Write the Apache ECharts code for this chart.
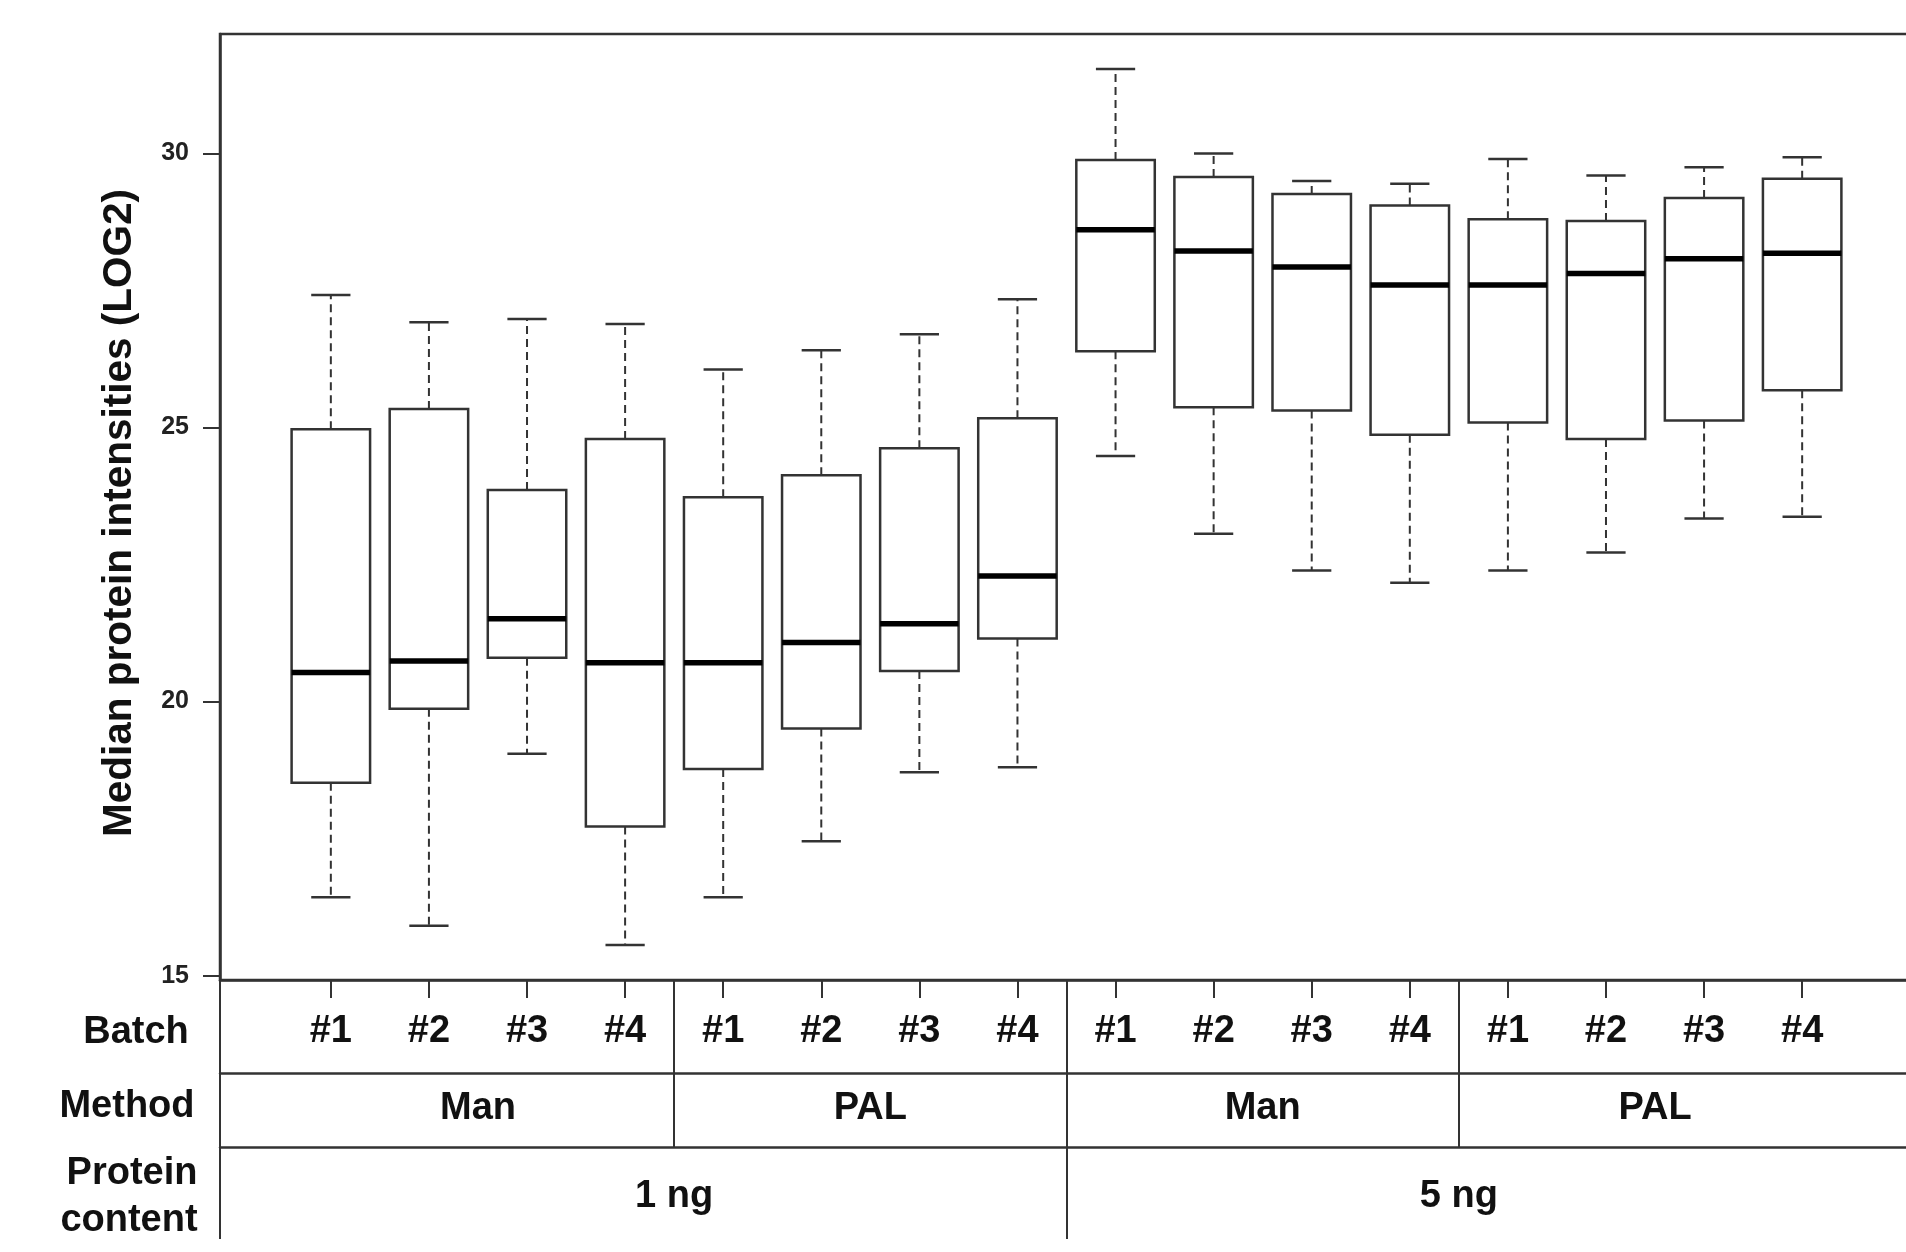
<!DOCTYPE html>
<html>
<head>
<meta charset="utf-8">
<script src="https://cdn.jsdelivr.net/npm/echarts@6/dist/echarts.min.js"></script>
<style>
html,body{margin:0;padding:0;background:#fff;}
#chart{width:1906px;height:1252px;}
</style>
</head>
<body>
<div id="chart"></div>
<script>
// ---------- data ----------
const batches = ['#1','#2','#3','#4','#1','#2','#3','#4','#1','#2','#3','#4','#1','#2','#3','#4'];
const methods = ['Man','PAL','Man','PAL'];
const proteinContent = ['1 ng','5 ng'];
const lowerWhisker = [16.43, 15.91, 19.05, 15.56, 16.43, 17.45, 18.71, 18.80, 24.48, 23.06, 22.39, 22.17, 22.39, 22.72, 23.34, 23.37];
const q1           = [18.52, 19.87, 20.80, 17.72, 18.77, 19.51, 20.56, 21.15, 26.39, 25.37, 25.31, 24.87, 25.09, 24.79, 25.13, 25.68];
const median       = [20.53, 20.74, 21.51, 20.71, 20.71, 21.08, 21.42, 22.29, 28.61, 28.22, 27.93, 27.60, 27.60, 27.81, 28.08, 28.18];
const q3           = [24.97, 25.34, 23.86, 24.79, 23.73, 24.13, 24.62, 25.17, 29.88, 29.57, 29.26, 29.05, 28.80, 28.77, 29.19, 29.54];
const upperWhisker = [27.42, 26.92, 26.98, 26.89, 26.06, 26.41, 26.70, 27.34, 31.54, 30.00, 29.50, 29.45, 29.90, 29.60, 29.75, 29.93];
const yTicks = [15, 20, 25, 30];
const yTickLabels = ['15', '20', '25', '30'];
const yTitle = 'Median protein intensities (LOG2)';
const rowTitles = ['Batch', 'Method', 'Protein', 'content'];

// ---------- derived positions (group structure) ----------
const positions = batches.map((_, i) => i + 1);
const perMethod = batches.length / methods.length;          // 4
const perProtein = batches.length / proteinContent.length;  // 8
const methodCenters = methods.map((_, i) => i * perMethod + (perMethod + 1) / 2);
const proteinCenters = proteinContent.map((_, i) => i * perProtein + (perProtein + 1) / 2);
const methodSeparators = methods.slice(1).map((_, i) => (i + 1) * perMethod + 0.5);
const proteinSeparators = proteinContent.slice(1).map((_, i) => (i + 1) * perProtein + 0.5);

// ---------- layout ----------
const X_MIN = -0.13, X_MAX = 17.13;
const Y_MIN = 14.92, Y_MAX = 32.18;
const FONT = "'Liberation Sans', Arial, Helvetica, sans-serif";
const LINE = '#333';

const boxData = positions.map((p, i) => [p, lowerWhisker[i], q1[i], median[i], q3[i], upperWhisker[i]]);

function nearestLabel(list, centers, v) {
  let best = 0, d = Infinity;
  centers.forEach((c, i) => { if (Math.abs(c - v) < d) { d = Math.abs(c - v); best = i; } });
  return list[best];
}

const baseX = {
  type: 'value', min: X_MIN, max: X_MAX, gridIndex: 0, position: 'bottom',
  splitLine: { show: false }
};

const chart = echarts.init(document.getElementById('chart'), null, { renderer: 'canvas' });
chart.setOption({
  animation: false,
  backgroundColor: '#fff',
  grid: {
    left: 220, top: 34, width: 1693, height: 946,
    outerBoundsMode: 'none', containLabel: false,
    show: true, borderColor: LINE, borderWidth: 2.5, backgroundColor: 'transparent'
  },
  xAxis: [
    Object.assign({}, baseX, {
      offset: 0,
      axisLine: { show: true, onZero: false, lineStyle: { color: LINE, width: 2.5 } },
      axisTick: { show: true, customValues: positions, length: 18, lineStyle: { color: LINE, width: 2 } },
      axisLabel: {
        customValues: positions,
        formatter: v => nearestLabel(batches, positions, v),
        fontSize: 38, fontWeight: 'bold', color: '#111', fontFamily: FONT, margin: 33
      }
    }),
    Object.assign({}, baseX, {
      offset: 93,
      axisLine: { show: true, onZero: false, lineStyle: { color: LINE, width: 2.5 } },
      axisTick: { show: true, inside: true, customValues: [X_MIN].concat(methodSeparators), length: 93, lineStyle: { color: LINE, width: 2 } },
      axisLabel: {
        customValues: methodCenters,
        formatter: v => nearestLabel(methods, methodCenters, v),
        fontSize: 38, fontWeight: 'bold', color: '#111', fontFamily: FONT, margin: 17
      }
    }),
    Object.assign({}, baseX, {
      offset: 167,
      axisLine: { show: true, onZero: false, lineStyle: { color: LINE, width: 2.5 } },
      axisTick: { show: true, inside: true, customValues: [X_MIN].concat(methodSeparators), length: 74, lineStyle: { color: LINE, width: 2 } },
      axisLabel: {
        customValues: proteinCenters,
        formatter: v => nearestLabel(proteinContent, proteinCenters, v),
        fontSize: 38, fontWeight: 'bold', color: '#111', fontFamily: FONT, margin: 31
      }
    }),
    Object.assign({}, baseX, {
      offset: 167,
      axisLine: { show: false },
      axisTick: { show: true, customValues: [X_MIN].concat(proteinSeparators), length: 92, lineStyle: { color: LINE, width: 2 } },
      axisLabel: { show: false }
    })
  ],
  yAxis: {
    type: 'value', min: Y_MIN, max: Y_MAX,
    splitLine: { show: false },
    axisLine: { show: true, onZero: false, lineStyle: { color: LINE, width: 2.5 } },
    axisTick: { show: true, customValues: yTicks, length: 17, lineStyle: { color: LINE, width: 2 } },
    axisLabel: {
      customValues: yTicks,
      formatter: v => nearestLabel(yTickLabels, yTicks, v),
      fontSize: 25, fontWeight: 'bold', color: '#222', fontFamily: FONT, margin: 31
    },
    name: yTitle, nameLocation: 'middle', nameRotate: 90, nameGap: 80,
    nameTextStyle: { fontSize: 40.5, fontWeight: 'bold', color: '#111', fontFamily: FONT, padding: [0, 12, 0, 0] }
  },
  graphic: [
    { type: 'text', x: 136, y: 1033, style: { text: rowTitles[0], font: "bold 38px " + FONT, fill: '#111', align: 'center', verticalAlign: 'middle' } },
    { type: 'text', x: 127, y: 1107, style: { text: rowTitles[1], font: "bold 38px " + FONT, fill: '#111', align: 'center', verticalAlign: 'middle' } },
    { type: 'text', x: 132, y: 1174, style: { text: rowTitles[2], font: "bold 38px " + FONT, fill: '#111', align: 'center', verticalAlign: 'middle' } },
    { type: 'text', x: 129, y: 1221, style: { text: rowTitles[3], font: "bold 38px " + FONT, fill: '#111', align: 'center', verticalAlign: 'middle' } }
  ],
  series: [{
    type: 'custom',
    xAxisIndex: 0, yAxisIndex: 0,
    data: boxData,
    encode: { x: 0, y: [1, 2, 3, 4, 5] },
    clip: false,
    renderItem: function (params, api) {
      const p = api.value(0);
      const lo = api.coord([p, api.value(1)]);
      const b1 = api.coord([p, api.value(2)]);
      const md = api.coord([p, api.value(3)]);
      const b3 = api.coord([p, api.value(4)]);
      const hi = api.coord([p, api.value(5)]);
      const unit = api.size([1, 0])[0];
      const hw = unit * 0.4, cw = unit * 0.2;
      const x = md[0];
      const dashed = { stroke: LINE, lineWidth: 2, lineDash: [8, 5] };
      const solid = { stroke: LINE, lineWidth: 2.5 };
      return {
        type: 'group',
        children: [
          { type: 'line', shape: { x1: x, y1: b3[1], x2: x, y2: hi[1] }, style: dashed },
          { type: 'line', shape: { x1: x, y1: b1[1], x2: x, y2: lo[1] }, style: dashed },
          { type: 'line', shape: { x1: x - cw, y1: hi[1], x2: x + cw, y2: hi[1] }, style: solid },
          { type: 'line', shape: { x1: x - cw, y1: lo[1], x2: x + cw, y2: lo[1] }, style: solid },
          { type: 'rect', shape: { x: x - hw, y: b3[1], width: 2 * hw, height: b1[1] - b3[1] }, style: { fill: '#fff', stroke: LINE, lineWidth: 2.5 } },
          { type: 'line', shape: { x1: x - hw, y1: md[1], x2: x + hw, y2: md[1] }, style: { stroke: '#000', lineWidth: 5.5 } }
        ]
      };
    }
  }]
});
</script>
</body>
</html>
